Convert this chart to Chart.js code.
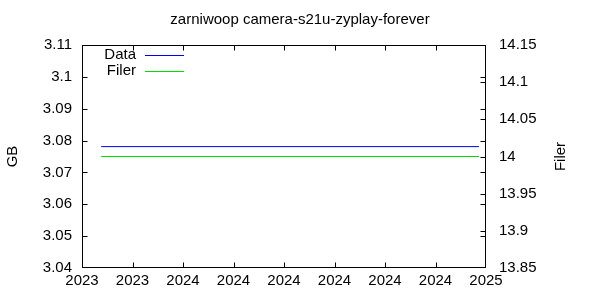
<!DOCTYPE html>
<html>
<head>
<meta charset="utf-8">
<script src="https://cdn.jsdelivr.net/npm/chart.js@4"></script>
<style>
html,body{margin:0;padding:0;background:#fff;}
#wrap{width:600px;height:300px;}
</style>
</head>
<body>
<div id="wrap"><canvas id="c" width="600" height="300"></canvas></div>
<script>
const titleText = 'zarniwoop camera-s21u-zyplay-forever';
const xTickLabels = ['2023','2023','2024','2024','2024','2024','2024','2024','2025'];
const xPositions = [0.38, 7.86];
const dataGB = [3.0781, 3.0781];
const filerCount = [14, 14];
const leftTicks = [3.04, 3.05, 3.06, 3.07, 3.08, 3.09, 3.1, 3.11];
const rightTicks = [13.85, 13.9, 13.95, 14, 14.05, 14.1, 14.15];
const seriesNames = ['Data', 'Filer'];
const seriesColors = ['#0000ee', '#00dd00'];

Chart.defaults.font.family = "'Liberation Sans', Arial, sans-serif";
Chart.defaults.font.size = 15;
Chart.defaults.color = '#000';

const framePlugin = {
  id: 'frame',
  afterDraw(chart) {
    const {ctx, chartArea: a, scales} = chart;
    ctx.save();
    ctx.strokeStyle = '#000';
    ctx.lineWidth = 1;
    const L = Math.round(a.left) + 0.5, R = Math.round(a.right) - 0.5;
    const T = Math.round(a.top) + 0.5, B = Math.round(a.bottom) - 0.5;
    const clampX = v => Math.min(R, Math.max(L, v));
    const clampY = v => Math.min(B, Math.max(T, v));
    ctx.strokeRect(L, T, R - L, B - T);
    const tl = 5;
    ctx.beginPath();
    scales.x.ticks.forEach(t => {
      const px = clampX(Math.round(scales.x.getPixelForValue(t.value)) + 0.5);
      ctx.moveTo(px, B); ctx.lineTo(px, B - tl);
      ctx.moveTo(px, T); ctx.lineTo(px, T + tl);
    });
    scales.y.ticks.forEach(t => {
      const py = clampY(Math.round(scales.y.getPixelForValue(t.value)) + 0.5);
      ctx.moveTo(L, py); ctx.lineTo(L + tl, py);
      ctx.moveTo(R, py); ctx.lineTo(R - tl, py);
    });
    scales.y2.ticks.forEach(t => {
      const py = clampY(Math.round(scales.y2.getPixelForValue(t.value)) + 0.5);
      ctx.moveTo(R, py); ctx.lineTo(R - tl, py);
    });
    ctx.stroke();

    // right axis title, rotated to read upward
    ctx.font = "15px 'Liberation Sans', Arial, sans-serif";
    ctx.fillStyle = '#000';
    ctx.textAlign = 'center';
    ctx.textBaseline = 'middle';
    ctx.save();
    ctx.translate(561, (a.top + a.bottom) / 2);
    ctx.rotate(-Math.PI / 2);
    ctx.fillText('Filer', 0, 0);
    ctx.restore();

    // legend inside plot
    const rows = [55.5, 71.5];
    chart.data.datasets.forEach((ds, i) => {
      ctx.textAlign = 'right';
      ctx.textBaseline = 'middle';
      ctx.fillStyle = '#000';
      ctx.fillText(ds.label, 136, rows[i] - 1);
      ctx.strokeStyle = ds.borderColor;
      ctx.beginPath();
      ctx.moveTo(145, rows[i]);
      ctx.lineTo(184, rows[i]);
      ctx.stroke();
    });
    ctx.restore();
  }
};

new Chart(document.getElementById('c'), {
  type: 'line',
  data: {
    datasets: [
      {
        label: seriesNames[0],
        data: xPositions.map((x, i) => ({x: x, y: dataGB[i]})),
        borderColor: seriesColors[0],
        borderWidth: 1,
        pointRadius: 0,
        yAxisID: 'y'
      },
      {
        label: seriesNames[1],
        data: xPositions.map((x, i) => ({x: x, y: filerCount[i]})),
        borderColor: seriesColors[1],
        borderWidth: 1,
        pointRadius: 0,
        yAxisID: 'y2'
      }
    ]
  },
  options: {
    responsive: false,
    animation: false,
    devicePixelRatio: 1,
    layout: {padding: 0},
    plugins: {
      legend: {display: false},
      tooltip: {enabled: false},
      title: {
        display: true,
        text: titleText,
        font: {size: 15, weight: 'normal'},
        color: '#000',
        padding: {top: 11, bottom: 16}
      }
    },
    scales: {
      x: {
        type: 'linear',
        min: 0,
        max: xTickLabels.length - 1,
        grid: {display: false, drawTicks: false},
        border: {display: false},
        afterBuildTicks: s => { s.ticks = xTickLabels.map((l, i) => ({value: i})); },
        afterFit: s => { s.height = 32; },
        ticks: {
          maxRotation: 0,
          autoSkip: false,
          padding: 4,
          callback: (v) => xTickLabels[Math.round(v)]
        }
      },
      y: {
        type: 'linear',
        position: 'left',
        min: leftTicks[0],
        max: leftTicks[leftTicks.length - 1],
        grid: {display: false, drawTicks: false},
        border: {display: false},
        afterBuildTicks: s => { s.ticks = leftTicks.map(v => ({value: v})); },
        afterFit: s => { s.width = 82; },
        ticks: {
          padding: 10,
          callback: v => String(Number(v.toFixed(2)))
        },
        title: {display: true, text: 'GB', font: {size: 15}, padding: {top: 4, bottom: 0}}
      },
      y2: {
        type: 'linear',
        position: 'right',
        min: rightTicks[0],
        max: rightTicks[rightTicks.length - 1],
        grid: {display: false, drawTicks: false},
        border: {display: false},
        afterBuildTicks: s => { s.ticks = rightTicks.map(v => ({value: v})); },
        afterFit: s => { s.width = 114; },
        ticks: {
          padding: 13,
          callback: v => String(Number(v.toFixed(2)))
        }
      }
    }
  },
  plugins: [framePlugin]
});
</script>
</body>
</html>
